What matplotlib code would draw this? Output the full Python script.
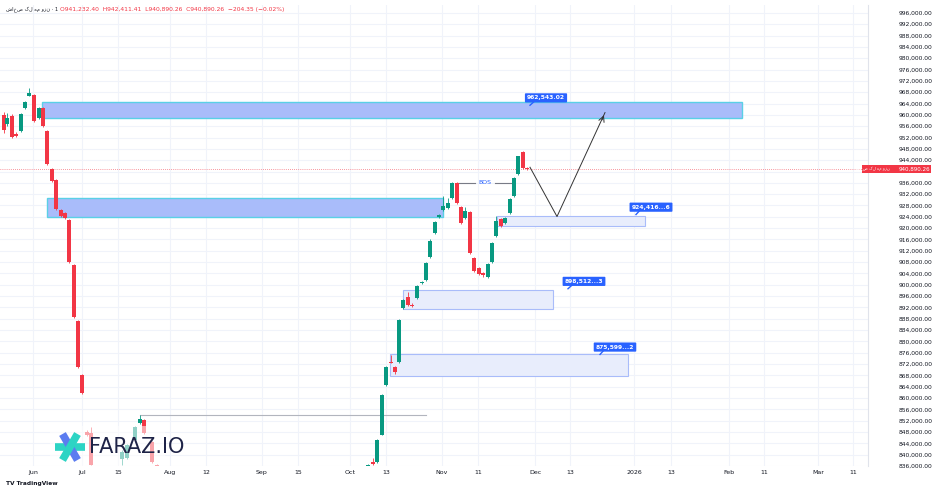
import matplotlib
matplotlib.use("Agg")
import matplotlib.pyplot as plt
from matplotlib.patches import Rectangle
import numpy as np

# ---- data ----
bar_x = [4,7,12,16,21,25,29,34,39,43,47,52,56,61,65,69,74,78,82,87,91,
         122,127,135,140,144,152,157,
         368,373,377,382,386,391,395,399,403,408,412,417,422,426,430,435,439,443,448,
         452,457,461,465,470,474,479,483,488,492,496,501,505,510,514,518,523,527]
opens = [960000,956800,959600,953300,954300,962500,966700,967000,958900,962500,954300,940900,937000,926500,925400,922900,907000,887300,868200,848100,847700,
         838500,838900,845300,851300,852300,844600,836400,
         836000,837400,837300,847100,864700,872800,871000,872800,891900,895700,893000,895400,900700,901700,909900,918300,924000,926500,927200,
         930700,936000,927500,923600,925800,909500,906000,904200,902600,908100,917300,923300,921900,925400,931400,939200,946900,941200]
highs = [961000,960700,960200,953800,960600,964800,969500,967500,962800,962800,954500,941200,937300,926800,925700,923200,907300,887600,868500,848600,849800,
         841500,843800,850000,854000,852600,844900,836700,
         836700,838800,845600,861500,871300,875100,871300,887900,895000,897300,893400,899900,901300,908000,916000,922500,925000,931400,930500,
         936300,936300,927800,927500,926100,909800,906300,904500,907700,915100,924200,923600,924000,930600,938100,945600,947200,941500]
lows = [953500,956000,951800,952300,954000,962200,966500,957500,958600,955800,942400,936400,926500,924000,923300,907800,888400,870700,861600,846700,836200,
        836200,838600,845000,851000,847400,837200,835900,
        835800,836500,837000,846800,864400,872200,868500,872500,891600,892400,892000,895100,900400,901400,909600,918000,923700,926200,926900,
        930400,928600,921600,923300,911000,904600,903600,902600,902300,907800,917000,920500,921600,925100,931100,938900,941000,940700]
closes = [954700,958900,952200,952600,960300,964500,967800,957900,962500,956100,942700,936700,926800,924300,923600,908100,888700,871000,861900,847000,836400,
          841000,843500,849700,852700,847700,837500,836000,
          836500,836700,845300,861200,871000,872400,869300,887600,894700,892900,892500,899600,901000,907700,915500,922200,924700,927900,928900,
          936000,928900,921900,926100,911300,904900,903900,903500,907400,914800,922600,920800,923700,930300,937800,945300,941300,940890]

x_tick_pos = [33,82,118,170,206,262,298,350,386,442,478,535,570,634,671,729,764,818,853]
x_tick_lab = ["Jun","Jul","15","Aug","12","Sep","15","Oct","13","Nov","11","Dec","13","2026","13","Feb","11","Mar","11"]
y_ticks = list(range(836000, 996001, 4000))

zones = [  # x0, x1, p_low, p_high, strong
    (42, 742, 958900, 964600, True),
    (47, 443, 924000, 930700, True),
    (497, 645, 920800, 924400, False),
    (403, 553, 891500, 898200, False),
    (390, 628, 867900, 875600, False),
]
labels = [("962,543.02", 546, 966000, 530), ("924,416...6", 651, 927400, 636),
          ("898,512...3", 584, 901200, 568), ("875,599...2", 615, 878000, 600)]
path_x = [530, 557, 605]
path_p = [941500, 924100, 960800]
last_price = 940890.26

GREEN = "#089981"; RED = "#f23645"

fig = plt.figure(figsize=(9.36, 4.92), dpi=100)
W, H = 936, 492
ax = fig.add_axes([0, 26/H, 868/W, 1 - 26/H - 5/H])
ax.set_xlim(0, 868)
ax.set_ylim(836100, 998800)

for xv in x_tick_pos:
    ax.axvline(xv, color="#f0f3fa", lw=0.8, zorder=0)
for yv in y_ticks:
    ax.axhline(yv, color="#f0f3fa", lw=0.8, zorder=0)

for x0, x1, pl, ph, strong in zones:
    if strong:
        ax.add_patch(Rectangle((x0, pl), x1-x0, ph-pl, facecolor="#a9bcfa", edgecolor="#5ad0e6", lw=1.0, zorder=1))
    else:
        ax.add_patch(Rectangle((x0, pl), x1-x0, ph-pl, facecolor="#e8edfc", edgecolor="#a9bcfa", lw=0.8, zorder=1))

ax.plot([140, 426], [854100, 854100], color="#b2b5be", lw=0.8, zorder=1)
ax.axhline(last_price, color="#f23645", lw=0.5, ls=(0, (1, 2)), zorder=1)

for x, o, h, l, c in zip(bar_x, opens, highs, lows, closes):
    col = GREEN if c >= o else RED
    ax.vlines(x, l, h, color=col, lw=0.6, zorder=3)
    ax.bar(x, abs(c-o) if abs(c-o) > 300 else 400, bottom=min(o, c), width=3.3, color=col, zorder=3)

ax.plot([457, 475], [936000, 936000], color="#787b86", lw=0.8, zorder=2)
ax.plot([495, 513], [936000, 936000], color="#787b86", lw=0.8, zorder=2)
ax.text(485, 936000, "BOS", color="#2962ff", fontsize=4.5, ha="center", va="center", zorder=4)

ax.plot(path_x, path_p, color="#333333", lw=0.7, zorder=4)
ax.annotate("", xy=(path_x[-1], path_p[-1]), xytext=(path_x[-1]-4, path_p[-1]-3500),
            arrowprops=dict(arrowstyle="->", color="#333333", lw=0.7), zorder=4)

for txt, xc, pc, xp in labels:
    ax.plot([xp, xc-10], [pc-2600, pc-700], color="#2962ff", lw=1.0, zorder=5)
    ax.text(xc, pc, txt, fontsize=4.3, color="white", fontweight="bold", ha="center", va="center", zorder=6,
            bbox=dict(boxstyle="round,pad=0.35,rounding_size=0.15", fc="#2962ff", ec="none"))

ax.add_patch(Rectangle((50, 836100), 115, 14000, facecolor="white", alpha=0.55, edgecolor="none", zorder=5))

for s in ["top", "left", "bottom"]:
    ax.spines[s].set_visible(False)
ax.spines["right"].set_color("#e0e3eb")
ax.yaxis.tick_right()
ax.set_yticks(y_ticks)
# the 940,000 label is covered by the last-price tag in the reference
ax.set_yticklabels(["" if v == 940000 else f"{v:,.2f}" for v in y_ticks], fontsize=4.3, color="#131722")
ax.tick_params(axis="y", length=0, pad=22)
ax.set_xticks(x_tick_pos)
ax.set_xticklabels(x_tick_lab, fontsize=4.5, color="#131722")
ax.tick_params(axis="x", length=0, pad=3)

ytr = ax.get_yaxis_transform()
ax.add_patch(Rectangle((1 - 6/868, last_price - 1350), 69/868, 2700, transform=ytr,
                       facecolor="#f23645", edgecolor="none", clip_on=False, zorder=6))
ax.text(1 + 62/868, last_price, f"{last_price:,.2f}", transform=ytr, fontsize=4.1,
        color="white", ha="right", va="center", clip_on=False, zorder=7)
ax.text(1 + 22/868, last_price, "شاخص کل هم وزن", transform=ytr, fontsize=3.0,
        color="white", ha="right", va="center", clip_on=False, zorder=7)

fig.text(6/W, 1 - 9/H, "شاخص کل هم وزن · 1", fontsize=3.6, color="#131722", va="center")
fig.text(60/W, 1 - 9/H, "O941,232.40  H942,411.41  L940,890.26  C940,890.26  −204.35 (−0.02%)",
         fontsize=4.3, color="#f23645", va="center")

fig.text(6/W, 8/H, "TV TradingView", fontsize=4.2, color="#131722", va="center", fontweight="bold")

def fx(px): return px / W
def fy(py): return 1 - py / H
cx, cy = 70, 447
for ang, col in [(0, "#2dd4c4"), (60, "#5b7cf0"), (120, "#2dd4c4")]:
    a = np.deg2rad(ang)
    dx, dy = 15*np.cos(a), 15*np.sin(a)
    fig.add_artist(plt.Line2D([fx(cx-dx), fx(cx+dx)], [fy(cy-dy), fy(cy+dy)], color=col, lw=5.5, solid_capstyle="butt", zorder=10))
fig.text(fx(89), fy(447), "FARAZ.IO", fontsize=15, color="#1e2347", va="center", ha="left", zorder=10)

fig.savefig("out.png", dpi=100, facecolor="white")
